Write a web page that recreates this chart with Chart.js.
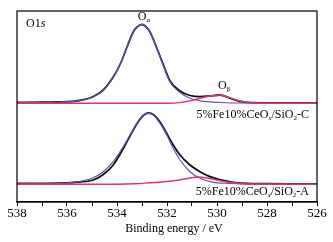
<!DOCTYPE html>
<html>
<head>
<meta charset="utf-8">
<script src="https://cdn.jsdelivr.net/npm/chart.js@4.4.1/dist/chart.umd.min.js"></script>
<style>
  html, body { margin: 0; padding: 0; background: #fff; }
  #wrap { width: 333px; height: 242px; }
</style>
</head>
<body>
<div id="wrap"><canvas id="grafico" width="333" height="242"></canvas></div>
<script>
// Binding energy (eV) and intensity (a.u., spectra stacked with an offset)
// Upper spectrum: 5%Fe10%CeOx/SiO2-C
const eV_C_datos = [538, 537, 536.3, 535.5, 534.95, 534.55, 534.15, 533.85, 533.6, 533.35, 533.2, 533.0, 532.85, 532.68, 532.4, 532.15, 531.88, 531.48, 531.08, 530.68, 530.28, 529.88, 529.48, 529.08, 528.68, 528, 527, 526];
const int_C_datos = [99.6, 99.8, 100, 101.5, 105.5, 112, 125, 139, 155, 170, 175, 177.5, 175.5, 170, 153.5, 137.5, 121, 111, 106.5, 105.3, 106, 107, 103.8, 100.5, 99.3, 99.2, 99.2, 99.2];

const eV_C_alfa = [538, 537, 536.3, 535.5, 534.95, 534.55, 534.15, 533.85, 533.6, 533.35, 533.2, 533.0, 532.85, 532.68, 532.4, 532.15, 531.88, 531.48, 531.08, 530.68, 530.28, 529.88, 529, 526];
const int_C_alfa = [99.2, 99.5, 100, 101.3, 105, 111.5, 124.5, 139, 155, 170, 175, 177.7, 175.5, 170, 153, 136.5, 120, 109.5, 103.7, 101.2, 100.2, 99.5, 99, 99];

const eV_C_beta = [538, 532, 531.5, 531.08, 530.68, 530.28, 529.88, 529.48, 529.08, 528.6, 528, 526];
const int_C_beta = [98.7, 98.8, 99.4, 101.3, 103.7, 106, 107, 104.2, 101, 99.3, 98.8, 98.7];

// Lower spectrum: 5%Fe10%CeOx/SiO2-A
const eV_A_datos = [538, 537, 536.3, 535.5, 534.95, 534.55, 534.15, 533.75, 533.48, 533.21, 532.95, 532.75, 532.55, 532.28, 532.01, 531.75, 531.48, 531.08, 530.68, 530.28, 529.88, 529.5, 529.2, 528.8, 528, 527, 526];
const int_A_datos = [18.5, 18.6, 18.8, 20, 22, 27.5, 37, 53.5, 66, 78, 86.5, 89, 87.5, 80, 68.5, 57, 47, 37, 30.3, 25.3, 22.3, 20.3, 19.2, 18.6, 18.3, 18.2, 18.2];

const eV_A_alfa = [538, 537, 536.3, 535.5, 534.95, 534.55, 534.15, 533.75, 533.48, 533.21, 532.95, 532.75, 532.55, 532.28, 532.01, 531.75, 531.48, 531.08, 530.68, 530.15, 529.5, 529, 526];
const int_A_alfa = [18, 18.2, 18.5, 20.3, 24.3, 30.3, 40.3, 55.3, 67, 78.7, 87, 88.7, 87, 78.7, 67, 53.7, 42, 30.3, 23.7, 19.7, 18.6, 18.2, 18];

const eV_A_beta = [538, 534, 533.3, 532.7, 532, 531.5, 531.08, 530.75, 530.4, 530.0, 529.6, 529.1, 528.5, 526];
const int_A_beta = [17.7, 17.8, 18.2, 19.2, 20.5, 22, 24, 25, 24, 22, 20, 18.5, 17.9, 17.7];

const xTicks = [538, 536, 534, 532, 530, 528, 526];

const serif = '"Liberation Serif", "DejaVu Serif", serif';

function puntos(xs, ys) {
    return xs.map((x, i) => ({ x: x, y: ys[i] }));
}

function serie(xs, ys, color, ancho, orden) {
    return {
        data: puntos(xs, ys),
        borderColor: color,
        borderWidth: ancho,
        pointRadius: 0,
        fill: false,
        cubicInterpolationMode: 'monotone',
        order: orden
    };
}

// texto con subindices: [texto, tipo] tipo = 'n' normal, 'i' italica, 's' subindice, 'si' subindice italica
function textoRico(ctx, partes, x, y, size, alinear) {
    const medir = (p) => {
        ctx.font = fuente(p[1], size);
        return ctx.measureText(p[0]).width;
    };
    let total = partes.reduce((a, p) => a + medir(p), 0);
    let cx = alinear === 'right' ? x - total : (alinear === 'center' ? x - total / 2 : x);
    ctx.textBaseline = 'middle';
    ctx.textAlign = 'left';
    partes.forEach(p => {
        ctx.font = fuente(p[1], size);
        const dy = (p[1] === 's' || p[1] === 'si') ? size * 0.3 : 0;
        ctx.fillText(p[0], cx, y + dy);
        cx += ctx.measureText(p[0]).width;
    });
}

function fuente(tipo, size) {
    const sub = (tipo === 's' || tipo === 'si');
    const it = (tipo === 'i' || tipo === 'si');
    return (it ? 'italic ' : '') + (sub ? Math.round(size * 0.62) : size) + 'px ' + serif;
}

const marcoYTextos = {
    id: 'marcoYTextos',
    afterDraw(chart) {
        const ctx = chart.ctx;
        const a = chart.chartArea;
        ctx.save();
        ctx.strokeStyle = '#000';
        ctx.lineWidth = 1.2;
        ctx.strokeRect(a.left, a.top, a.right - a.left, a.bottom - a.top);
        ctx.fillStyle = '#000';
        textoRico(ctx, [['O1', 'n'], ['s', 'i']], 26, 24, 12, 'left');
        textoRico(ctx, [['O', 'n'], ['\u03b1', 's']], 144, 17, 12, 'center');
        textoRico(ctx, [['O', 'n'], ['\u03b2', 's']], 224, 86, 12, 'center');
        textoRico(ctx, [['5%Fe10%CeO', 'n'], ['x', 'si'], ['/SiO', 'n'], ['2', 's'], ['-C', 'n']], 309, 115, 12, 'right');
        textoRico(ctx, [['5%Fe10%CeO', 'n'], ['x', 'si'], ['/SiO', 'n'], ['2', 's'], ['-A', 'n']], 309, 192, 12, 'right');
        textoRico(ctx, [['Binding energy / eV', 'n']], 174, 229, 12, 'center');
        ctx.restore();
    }
};

const ctx = document.getElementById('grafico').getContext('2d');
new Chart(ctx, {
    type: 'line',
    data: {
        datasets: [
            serie(eV_C_beta, int_C_beta, '#e5306e', 1.4, 1),
            serie(eV_A_beta, int_A_beta, '#e5306e', 1.4, 1),
            serie(eV_C_alfa, int_C_alfa, '#5b58b0', 1.2, 2),
            serie(eV_A_alfa, int_A_alfa, '#5b58b0', 1.2, 2),
            serie(eV_C_datos, int_C_datos, '#111111', 1.8, 3),
            serie(eV_A_datos, int_A_datos, '#111111', 1.8, 3)
        ]
    },
    options: {
        responsive: false,
        animation: false,
        layout: { padding: { left: 17, right: 16, top: 11, bottom: 0 } },
        plugins: { legend: { display: false }, tooltip: { enabled: false } },
        scales: {
            x: {
                type: 'linear',
                min: 526,
                max: 538,
                reverse: true,
                afterFit: (s) => { s.height = 40; },
                afterBuildTicks: (s) => {
                    s.ticks = [];
                    for (let v = 538; v >= 526; v--) s.ticks.push({ value: v });
                },
                ticks: {
                    autoSkip: false,
                    maxRotation: 0,
                    padding: 0,
                    color: '#000',
                    font: { family: serif, size: 13 },
                    callback: (v) => xTicks.includes(v) ? String(v) : ''
                },
                grid: { drawOnChartArea: false, tickLength: 4, color: '#000', lineWidth: 1 },
                border: { display: true, color: '#000', width: 1.2 }
            },
            y: {
                display: false,
                min: 0,
                max: 191
            }
        }
    },
    plugins: [marcoYTextos]
});
</script>
</body>
</html>
